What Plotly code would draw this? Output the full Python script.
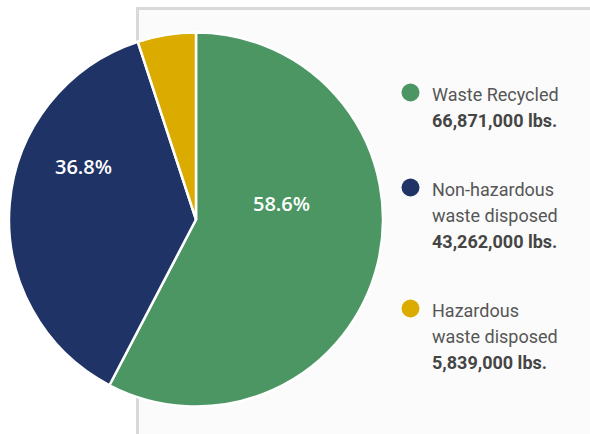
import plotly.graph_objects as go

# Waste streams (lbs.)
categories = ["Waste Recycled", "Non-hazardous waste disposed", "Hazardous waste disposed"]
legend_lines = [["Waste Recycled"], ["Non-hazardous", "waste disposed"], ["Hazardous", "waste disposed"]]
weights_lbs = [66871000, 43262000, 5839000]
pct_labels = ["58.6%", "36.8%", ""]
colors = ["#4b9663", "#1f3366", "#dcab00"]

W, H = 590, 434

# where the percentage labels sit inside their slices (pixels)
pct_label_pos = [(281, 203), (83, 167), None]


def px_x(px):
    return px / W


def px_y(py):
    return 1 - py / H


fig = go.Figure()

fig.add_trace(go.Pie(
    labels=categories,
    values=weights_lbs,
    textinfo="none",
    marker=dict(colors=colors, line=dict(color="white", width=2.5)),
    sort=False,
    direction="clockwise",
    rotation=0,
    hoverinfo="skip",
    showlegend=False,
    domain=dict(x=[px_x(9), px_x(383)], y=[px_y(406.5), px_y(32.5)]),
))

shapes = [
    # light panel with a thin grey frame on the top and left
    dict(type="rect", xref="paper", yref="paper", x0=px_x(138), x1=1.02, y0=-0.02, y1=px_y(8.5),
         fillcolor="#fbfbfb", line=dict(width=0), layer="below"),
    dict(type="line", xref="paper", yref="paper", x0=px_x(137.5), x1=px_x(137.5), y0=-0.02, y1=px_y(7),
         line=dict(color="#d9d9d9", width=3), layer="below"),
    dict(type="line", xref="paper", yref="paper", x0=px_x(136), x1=1.02, y0=px_y(8.5), y1=px_y(8.5),
         line=dict(color="#d9d9d9", width=3), layer="below"),
]

annotations = []

# percentage labels on the slices
for txt, pos in zip(pct_labels, pct_label_pos):
    if not txt or pos is None:
        continue
    annotations.append(dict(
        xref="paper", yref="paper", x=px_x(pos[0]), y=px_y(pos[1]),
        xanchor="center", yanchor="middle", showarrow=False, text=txt,
        font=dict(family="Open Sans", size=20, color="white", weight=600),
    ))

# legend: coloured dot + name lines + bold weight
text_x = 430
dot_x = 410.5
line_step = 26
entry_gap = 69
baseline = 100
for name_lines, lbs, col in zip(legend_lines, weights_lbs, colors):
    cy = baseline - 7.5
    shapes.append(dict(type="circle", xref="paper", yref="paper",
                       x0=px_x(dot_x - 9), x1=px_x(dot_x + 9),
                       y0=px_y(cy + 9), y1=px_y(cy - 9),
                       fillcolor=col, line=dict(width=0)))
    rows = [(t, False) for t in name_lines] + [(f"{lbs:,} lbs.", True)]
    for i, (t, bold) in enumerate(rows):
        b = baseline + i * line_step
        annotations.append(dict(
            xref="paper", yref="paper", x=px_x(text_x), y=px_y(b - 6),
            xanchor="left", yanchor="middle", showarrow=False,
            text=f"<b>{t}</b>" if bold else t,
            font=dict(family="Roboto", size=18, color="#454545" if bold else "#565656"),
        ))
    baseline += (len(rows) - 1) * line_step + entry_gap

fig.update_layout(
    width=W, height=H,
    margin=dict(l=0, r=0, t=0, b=0),
    paper_bgcolor="white",
    plot_bgcolor="white",
    shapes=shapes,
    annotations=annotations,
)

fig.write_html("out.html")
